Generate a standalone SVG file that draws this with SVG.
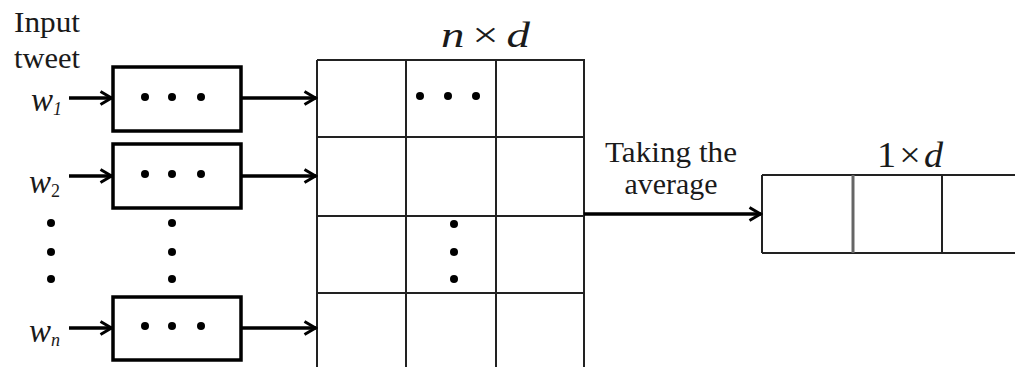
<svg xmlns="http://www.w3.org/2000/svg" width="1015" height="367" viewBox="0 0 1015 367">
<style>
.t{font-family:"Liberation Serif","Times New Roman",serif;fill:#1a1a1a;}
.w{font-size:33px;font-style:italic;}
.sub{font-size:18px;}
.box{fill:none;stroke:#000;stroke-width:3.5;}
.grid{fill:none;stroke:#222;stroke-width:2;}
.conn{stroke:#000;stroke-width:3.5;fill:none;marker-end:url(#ah);}
.dot{fill:#000;}
</style>
<defs>
<marker id="ah" viewBox="0 0 16 16" refX="14.5" refY="8" markerWidth="16" markerHeight="16" markerUnits="userSpaceOnUse" orient="auto">
<path d="M3,1.5 L14,8 L3,14.5" fill="none" stroke="#000" stroke-width="3"/>
</marker>
</defs>
<rect width="1015" height="367" fill="#fff"/>
<g id="label-input">
<text class="t" x="14" y="32" font-size="29" textLength="66" lengthAdjust="spacingAndGlyphs">Input</text>
<text class="t" x="14" y="68" font-size="29" textLength="66" lengthAdjust="spacingAndGlyphs">tweet</text>
</g>
<g id="w1"><text class="t w" x="31" y="111">w<tspan class="sub" dy="4">1</tspan></text></g>
<g id="w2"><text class="t w" x="29" y="193">w<tspan class="sub" dy="4" font-style="normal">2</tspan></text></g>
<g id="wn"><text class="t w" x="29" y="342">w<tspan class="sub" dy="4">n</tspan></text></g>
<g id="vdots-left">
<circle class="dot" cx="51" cy="223" r="4"/><circle class="dot" cx="51" cy="252" r="4"/><circle class="dot" cx="51" cy="279" r="4"/>
</g>
<g id="box1"><rect class="box" x="113" y="67" width="128" height="64"/>
<circle class="dot" cx="145" cy="97" r="4"/><circle class="dot" cx="172" cy="97" r="4"/><circle class="dot" cx="201" cy="97" r="4"/></g>
<g id="box2"><rect class="box" x="113" y="144" width="128" height="64"/>
<circle class="dot" cx="145" cy="174" r="4"/><circle class="dot" cx="172" cy="174" r="4"/><circle class="dot" cx="201" cy="174" r="4"/></g>
<g id="vdots-mid">
<circle class="dot" cx="172" cy="223" r="4"/><circle class="dot" cx="172" cy="252" r="4"/><circle class="dot" cx="172" cy="279" r="4"/>
</g>
<g id="boxn"><rect class="box" x="113" y="297" width="128" height="63"/>
<circle class="dot" cx="145" cy="326" r="4"/><circle class="dot" cx="172" cy="326" r="4"/><circle class="dot" cx="201" cy="326" r="4"/></g>
<g id="matrix">
<text class="t" x="441" y="47" font-size="36" textLength="89" lengthAdjust="spacingAndGlyphs"><tspan font-style="italic">n</tspan><tspan dx="6">×</tspan><tspan dx="6" font-style="italic">d</tspan></text>
<path class="grid" d="M317,60 H584 V368 M317,60 V368 M406,60 V368 M496,60 V368 M317,137 H584 M317,216 H584 M317,293 H584"/>
<circle class="dot" cx="420" cy="96" r="4"/><circle class="dot" cx="448" cy="96" r="4"/><circle class="dot" cx="476" cy="96" r="4"/>
<circle class="dot" cx="454" cy="224" r="4"/><circle class="dot" cx="454" cy="252" r="4"/><circle class="dot" cx="454" cy="279" r="4"/>
</g>
<g id="vector">
<text class="t" x="877" y="167" font-size="36" textLength="66" lengthAdjust="spacingAndGlyphs">1<tspan dx="3">×</tspan><tspan dx="3" font-style="italic">d</tspan></text>
<path class="grid" d="M762,175 H1016 M762,253 H1016 M762,175 V253 M942,175 V253"/>
<path d="M853,175 V253" stroke="#666" stroke-width="3"/>
</g>
<g id="avg-label">
<text class="t" x="671" y="162" font-size="29" text-anchor="middle" textLength="132" lengthAdjust="spacingAndGlyphs">Taking the</text>
<text class="t" x="671" y="194" font-size="29" text-anchor="middle" textLength="93" lengthAdjust="spacingAndGlyphs">average</text>
</g>
<g id="connectors">
<line class="conn" x1="69" y1="98" x2="112" y2="98"/>
<line class="conn" x1="69" y1="176" x2="112" y2="176"/>
<line class="conn" x1="69" y1="328" x2="112" y2="328"/>
<line class="conn" x1="241" y1="98" x2="316" y2="98"/>
<line class="conn" x1="241" y1="176" x2="316" y2="176"/>
<line class="conn" x1="241" y1="328" x2="316" y2="328"/>
<line class="conn" x1="584" y1="214" x2="761" y2="214"/>
</g>
</svg>
